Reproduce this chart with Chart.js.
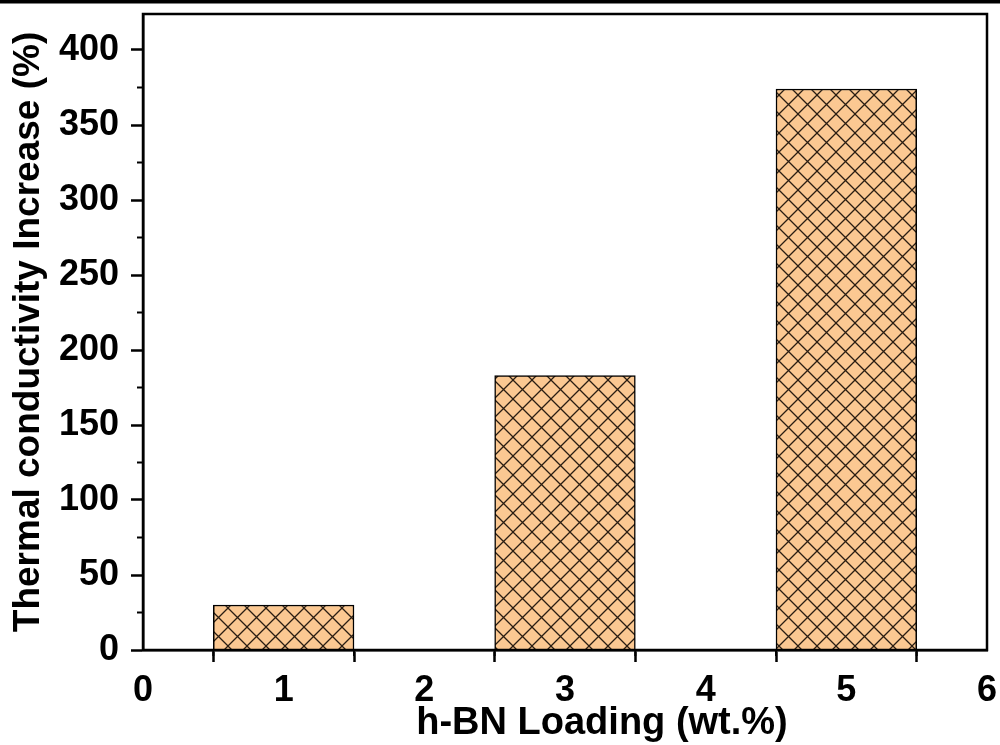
<!DOCTYPE html>
<html>
<head>
<meta charset="utf-8">
<script src="https://cdn.jsdelivr.net/npm/chart.js@4"></script>
<style>
  html, body { margin: 0; padding: 0; background: #fff; }
  #wrap { width: 1000px; height: 745px; }
</style>
</head>
<body>
<div id="wrap"><canvas id="myChart" width="1000" height="745"></canvas></div>
<script>
// values
const loadings = [1, 3, 5];            // h-BN loading, wt.%
const increases = [30, 183, 374];      // thermal conductivity increase, %
const yTicks = [0, 50, 100, 150, 200, 250, 300, 350, 400];
const yMinorTicks = [25, 75, 125, 175, 225, 275, 325, 375];
const xMinorTicks = [0.5, 1.5, 2.5, 3.5, 4.5, 5.5];

const xTitle = 'h-BN Loading (wt.%)';
const yTitle = 'Thermal conductivity Increase (%)';
const FONT = '"Liberation Sans", Arial, sans-serif';

// cross hatch fill for the bars
function makeHatch() {
    const c = document.createElement('canvas');
    const s = 19;
    c.width = s; c.height = s;
    const g = c.getContext('2d');
    g.fillStyle = '#fbc892';
    g.fillRect(0, 0, s, s);
    g.strokeStyle = '#2a1d12';
    g.lineWidth = 1.3;
    g.beginPath();
    g.moveTo(-1, -1); g.lineTo(s + 1, s + 1);
    g.moveTo(-1, s + 1); g.lineTo(s + 1, -1);
    g.stroke();
    return g.createPattern(c, 'repeat');
}

const extras = {
    id: 'extras',
    afterDraw(chart) {
        const {ctx, chartArea: a, scales: {x, y}} = chart;
        ctx.save();
        ctx.strokeStyle = '#000';
        ctx.lineWidth = 2;
        // minor ticks
        yMinorTicks.forEach(v => {
            const py = y.getPixelForValue(v);
            ctx.beginPath(); ctx.moveTo(a.left - 6, py); ctx.lineTo(a.left, py); ctx.stroke();
        });
        xMinorTicks.forEach(v => {
            const px = x.getPixelForValue(v);
            ctx.beginPath(); ctx.moveTo(px, a.bottom); ctx.lineTo(px, a.bottom + 6); ctx.stroke();
        });
        // box round the plot
        ctx.lineWidth = 2.5;
        ctx.strokeRect(a.left, a.top, a.right - a.left, a.bottom - a.top);
        // rule along the top edge of the figure
        ctx.fillStyle = '#000';
        ctx.fillRect(0, 0, chart.width, 3.5);
        // x axis title
        ctx.font = 'bold 38px ' + FONT;
        ctx.textAlign = 'center';
        ctx.textBaseline = 'alphabetic';
        ctx.fillText(xTitle, (a.left + a.right) / 2 + 37, 734);
        ctx.restore();
    }
};

const ctx = document.getElementById('myChart').getContext('2d');
const myChart = new Chart(ctx, {
    type: 'bar',
    data: {
        datasets: [{
            data: loadings.map((v, i) => ({x: v, y: increases[i]})),
            backgroundColor: makeHatch(),
            borderColor: '#000',
            borderWidth: 1.5,
            barPercentage: 1,
            categoryPercentage: 1
        }]
    },
    options: {
        responsive: false,
        animation: false,
        layout: { padding: { top: 14, right: 13, left: 0, bottom: 0 } },
        plugins: {
            legend: { display: false },
            tooltip: { enabled: false }
        },
        scales: {
            x: {
                type: 'linear',
                min: 0,
                max: 6,
                offset: false,
                afterFit: s => { s.height = 95; s.paddingLeft = 0; s.paddingRight = 0; },
                border: { color: '#000', width: 2.5 },
                grid: { drawOnChartArea: false, tickLength: 12, tickWidth: 2.5, tickColor: '#000' },
                ticks: {
                    stepSize: 1,
                    padding: 7,
                    color: '#000',
                    font: { family: FONT, size: 36, weight: 'bold' }
                }
            },
            y: {
                min: 0,
                max: 424,
                afterFit: s => { s.width = 143; s.paddingTop = 0; s.paddingBottom = 0; },
                afterBuildTicks: s => { s.ticks = yTicks.map(v => ({value: v})); },
                border: { color: '#000', width: 2.5 },
                grid: { drawOnChartArea: false, tickLength: 12, tickWidth: 2.5, tickColor: '#000' },
                ticks: {
                    padding: 12,
                    color: '#000',
                    font: { family: FONT, size: 36, weight: 'bold' }
                },
                title: {
                    display: true,
                    text: yTitle,
                    color: '#000',
                    padding: { top: 7, bottom: 0 },
                    font: { family: FONT, size: 37, weight: 'bold' }
                }
            }
        }
    },
    plugins: [extras]
});
</script>
</body>
</html>
